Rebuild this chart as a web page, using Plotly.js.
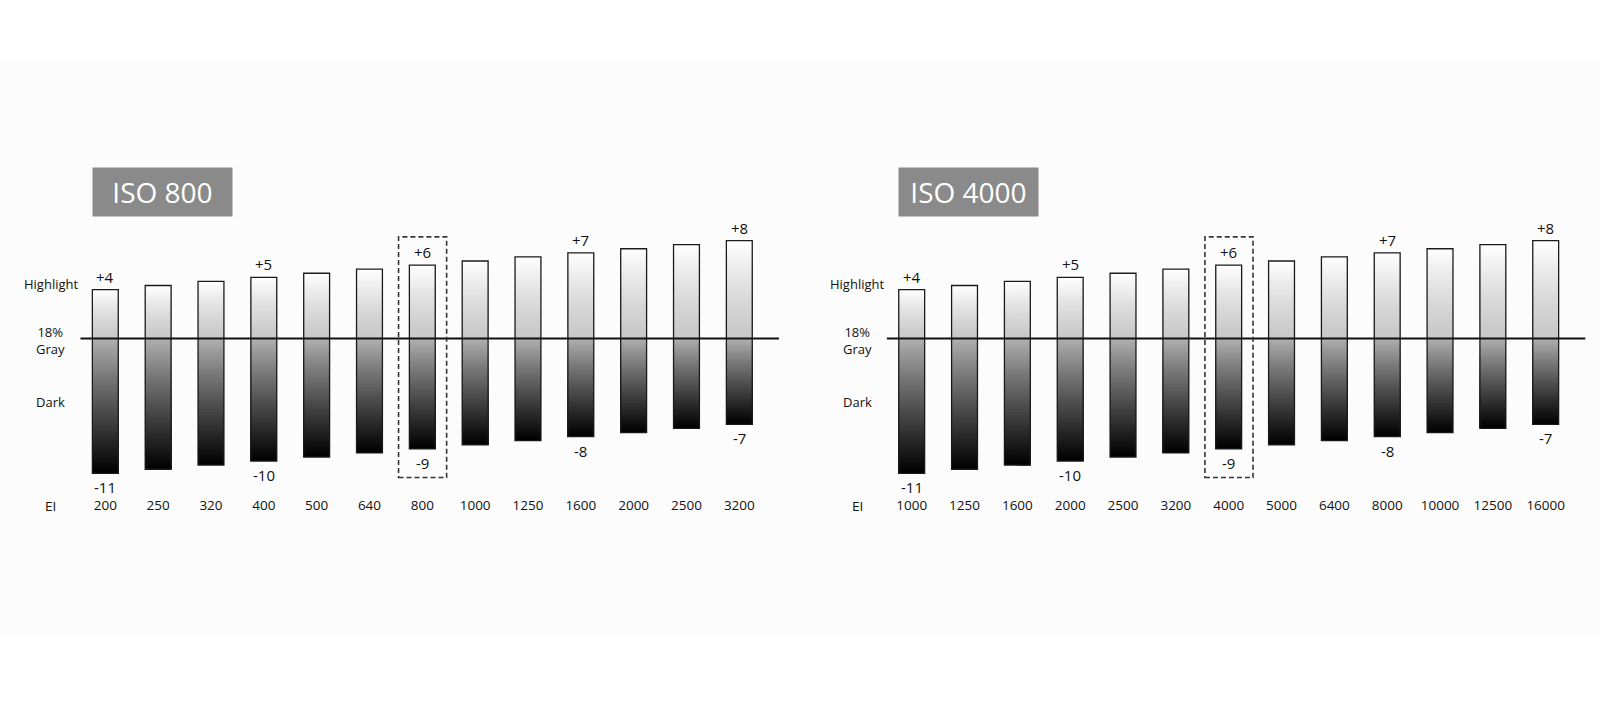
<!DOCTYPE html>
<html><head><meta charset="utf-8">
<script src="https://cdn.plot.ly/plotly-3.0.1.min.js"></script>
<style>html,body{margin:0;padding:0;background:#fff}#chart{width:1600px;height:708px}</style>
</head><body><div id="chart"></div>
<script>
// ---- data ----
const eiLeft = ['200','250','320','400','500','640','800','1000','1250','1600','2000','2500','3200'];
const eiRight = ['1000','1250','1600','2000','2500','3200','4000','5000','6400','8000','10000','12500','16000'];
const highlightStops = [4, 4.33, 4.67, 5, 5.33, 5.67, 6, 6.33, 6.67, 7, 7.33, 7.67, 8];
const darkStops = [-11, -10.67, -10.33, -10, -9.67, -9.33, -9, -8.67, -8.33, -8, -7.67, -7.33, -7];
const panelTitles = ['ISO 800', 'ISO 4000'];
const baseEI = ['800', '4000'];

// ---- style ----
const FONT = 'Open Sans, Noto Sans, sans-serif';
const W = 500;
const NSEG = 48;
function grey(v){ v=Math.round(v); return 'rgb('+v+','+v+','+v+')'; }
function lerp(a,b,t){ return a+(b-a)*t; }

const panels = [
  {cats: eiLeft, xa: 'x', ya: 'y', dom: [0.01629, 0.49179]},
  {cats: eiRight, xa: 'x2', ya: 'y2', dom: [0.52028, 0.99578]}
];

const traces = [];
const shapes = [];
const annotations = [];

// background band
shapes.push({type:'rect', xref:'paper', yref:'paper', x0:0, x1:1, y0:0.1003, y1:0.915,
  fillcolor:'#fcfcfc', line:{width:0}, layer:'below'});

panels.forEach((p, pi) => {
  // gradient segments (painted overlapping so no seams)
  const sx=[], sb=[], sy=[], sc=[];
  p.cats.forEach((c, i) => {
    const h = highlightStops[i], d = darkStops[i];
    for (let k=0;k<NSEG;k++){
      const t = k/NSEG;
      sx.push(c); sb.push(h*t); sy.push(h - h*t);
      sc.push(grey(lerp(200, 255, Math.pow((k+0.5)/NSEG, 1.3))));
    }
    for (let k=0;k<NSEG;k++){
      const t = k/NSEG;
      sx.push(c); sb.push(d); sy.push(d*t - d);
      sc.push(grey(lerp(178, 0, Math.pow((k+0.5)/NSEG, 0.9))));
    }
  });
  traces.push({type:'bar', x:sx, base:sb, y:sy, width:0.49, xaxis:p.xa, yaxis:p.ya,
    marker:{color:sc, line:{width:0}}, hoverinfo:'skip', showlegend:false});
  // outline
  traces.push({type:'bar', x:p.cats, base:darkStops, y:highlightStops.map((h,i)=>h-darkStops[i]),
    width:0.49, xaxis:p.xa, yaxis:p.ya,
    marker:{color:'rgba(0,0,0,0)', line:{width:1.3, color:'#1a1a1a'}},
    hovertemplate:'EI %{x}<extra></extra>', showlegend:false});

  // 18% gray line
  shapes.push({type:'line', xref:p.xa, yref:p.ya, x0:-0.47, x1:12.75, y0:0, y1:0,
    line:{color:'#111', width:2}, layer:'above'});

  // dashed box around base ISO
  const bi = p.cats.indexOf(baseEI[pi]);
  shapes.push({type:'rect', xref:p.xa, yref:p.ya, x0:bi-0.45, x1:bi+0.46,
    y0:darkStops[bi]-2.35, y1:highlightStops[bi]+2.3,
    line:{color:'#333', width:1.6, dash:'5px,3px'}, fillcolor:'rgba(0,0,0,0)', layer:'above'});

  // value labels at whole stops (category index positions)
  p.cats.forEach((c, i) => {
    if (Number.isInteger(highlightStops[i])) {
      annotations.push({xref:p.xa, yref:p.ya, x:i, y:highlightStops[i], yshift:13,
        xanchor:'center', yanchor:'middle',
        text:'+'+highlightStops[i], showarrow:false, font:{family:FONT, size:15, weight:W, color:'#111'}});
    }
    if (Number.isInteger(darkStops[i])) {
      annotations.push({xref:p.xa, yref:p.ya, x:i, y:darkStops[i], yshift:-14,
        xanchor:'center', yanchor:'middle',
        text:String(darkStops[i]), showarrow:false, font:{family:FONT, size:15, weight:W, color:'#111'}});
    }
  });

  // side labels
  const side = [['Highlight', 4.42], ['18%<br>Gray', -0.15], ['Dark', -5.2]];
  side.forEach(s => annotations.push({xref:p.xa, yref:p.ya, x:-1.03, y:s[1], text:s[0],
    xanchor:'center', yanchor:'middle',
    showarrow:false, font:{family:FONT, size:13, weight:W, color:'#111'}}));
  annotations.push({xref:p.xa, yref:'paper', x:-1.03, y:0.2857, text:'EI', showarrow:false,
    xanchor:'center', yanchor:'middle',
    font:{family:FONT, size:13.5, weight:W, color:'#111'}});

  // panel title
  annotations.push({xref:'paper', yref:'paper', x:(p.dom[0]*1600 + 136.1)/1600, y:0.7285,
    xanchor:'center', yanchor:'middle',
    text:panelTitles[pi], showarrow:false, width:139, height:48, bgcolor:'#8a8a8a', borderpad:0,
    font:{family:FONT, size:28, weight:W, color:'#ffffff'}});
});

const yCommon = {range:[-12.776, 15.388], domain:[0.3008, 0.7881], visible:false, fixedrange:true};
const xCommon = {type:'category', showgrid:false, zeroline:false, showline:false, ticks:'',
  range:[-1.5, 12.9], tickfont:{family:FONT, size:13.5, weight:W, color:'#111'}, fixedrange:true};

const layout = {
  width:1600, height:708, margin:{l:0, r:0, t:0, b:0},
  paper_bgcolor:'#ffffff', plot_bgcolor:'rgba(0,0,0,0)',
  barmode:'overlay', showlegend:false,
  xaxis: Object.assign({}, xCommon, {domain:panels[0].dom, anchor:'y'}),
  xaxis2: Object.assign({}, xCommon, {domain:panels[1].dom, anchor:'y2'}),
  yaxis: Object.assign({}, yCommon, {anchor:'x'}),
  yaxis2: Object.assign({}, yCommon, {anchor:'x2'}),
  shapes: shapes, annotations: annotations, font:{family:FONT}
};

Plotly.newPlot('chart', traces, layout, {displayModeBar:false});
</script></body></html>
